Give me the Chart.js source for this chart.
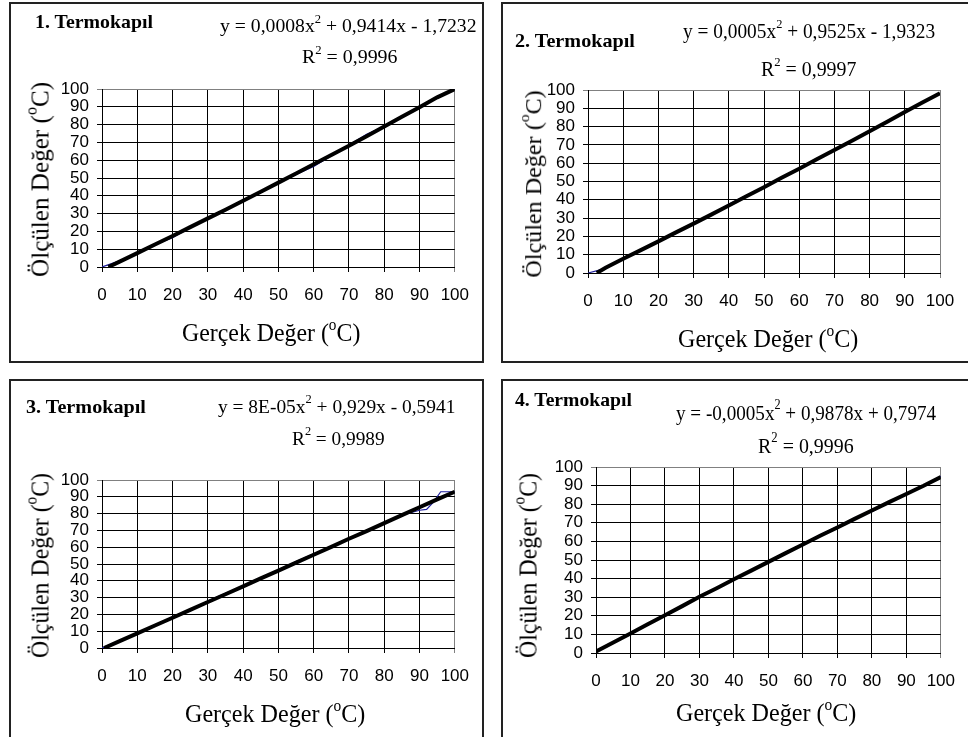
<!DOCTYPE html>
<html lang="tr">
<head>
<meta charset="UTF-8">
<title>Termokapıl kalibrasyonu</title>
<style>
  body { margin: 0; width: 968px; height: 737px; overflow: hidden; background: #fff; position: relative; font-family: "Liberation Serif", serif; }
  .box { position: absolute; border: 2px solid #222; box-sizing: border-box; }
  canvas { position: absolute; }
  .t { position: absolute; white-space: nowrap; line-height: 1; color: #000; transform-origin: 0 0; }
  .b { font-weight: bold; }
  .sup { font-size: .64em; position: relative; top: -.75em; }
</style>
<script src="https://cdn.jsdelivr.net/npm/chart.js"></script>
</head>
<body>
<script>
// --- data ---
const basliklar = ['1. Termokapıl', '2. Termokapıl', '3. Termokapıl', '4. Termokapıl'];
const denklemler = [
  'y = 0,0008x² + 0,9414x - 1,7232',
  'y = 0,0005x² + 0,9525x - 1,9323',
  'y = 8E-05x² + 0,929x - 0,5941',
  'y = -0,0005x² + 0,9878x + 0,7974'
];
const r2Degerleri = ['0,9996', '0,9997', '0,9989', '0,9996'];
const eksenTicks = [0, 10, 20, 30, 40, 50, 60, 70, 80, 90, 100];

// measured (blue) series
const adimX = [0, 5, 10, 15, 20, 25, 30, 35, 40, 45, 50, 55, 60, 65, 70, 75, 80, 85, 90, 95, 100];
const olcum1 = [0, 3.5, 7.5, 12.5, 16.5, 22, 27, 32.5, 37.5, 42.5, 47.5, 52, 56.5, 62.5, 68.5, 74.5, 79, 84, 89.5, 95, 100];
const olcum2 = [0, 2.5, 7.5, 12.5, 17, 22, 27, 32, 37.5, 42.5, 47, 52, 57, 62.5, 67, 72.5, 77.5, 82.5, 88, 93, 98];
const olcumX3 = [0, 5, 10, 15, 20, 25, 30, 35, 40, 45, 50, 55, 60, 65, 70, 75, 80, 85, 90, 92, 94, 96, 100];
const olcum3 = [0, 4.5, 8.5, 13.5, 18.5, 22, 28, 32.5, 37, 42, 46.5, 51.5, 56, 60, 65, 69.5, 74, 79, 82, 82.5, 87, 93, 93];
const olcum4 = [1, 5.5, 10, 15.5, 20, 25.5, 30, 35, 40, 44.5, 49, 54, 58, 63.5, 68, 72.5, 76, 81, 85.5, 90, 95];

// trend (black) series, starting where the line leaves the x axis
const trendX1 = [1.8, 5, 10, 15, 20, 25, 30, 35, 40, 45, 50, 55, 60, 65, 70, 75, 80, 85, 90, 95, 100];
const trend1 = [0, 3, 7.8, 12.6, 17.4, 22.4, 27.3, 32.2, 37.2, 42.3, 47.4, 52.5, 57.7, 62.9, 68.1, 73.5, 79, 84.4, 89.8, 95.3, 100];
const trendX2 = [2.5, 5, 10, 15, 20, 25, 30, 35, 40, 45, 50, 55, 60, 65, 70, 75, 80, 85, 90, 95, 100];
const trend2 = [0, 2.9, 7.8, 12.5, 17.3, 22.2, 27, 31.9, 36.9, 41.9, 46.9, 52, 57, 62.1, 67.2, 72.3, 77.5, 82.7, 88, 93.2, 98.2];
const trendX3 = [0.6, 5, 10, 15, 20, 25, 30, 35, 40, 45, 50, 55, 60, 65, 70, 75, 80, 85, 90, 95, 100];
const trend3 = [0, 4.1, 8.7, 13.4, 18, 22.7, 27.4, 32, 36.7, 41.4, 46.1, 50.8, 55.5, 60.2, 65, 69.6, 74.3, 79.1, 83.8, 88.5, 93];
const trend4 = [0.8, 5.7, 10.5, 15.5, 20.3, 25.2, 30.2, 34.8, 39.6, 44.3, 49, 53.7, 58.3, 63, 67.5, 72.1, 76.6, 81.1, 85.5, 89.9, 94.6];

const seriler = [
  { ox: adimX, oy: olcum1, tx: trendX1, ty: trend1 },
  { ox: adimX, oy: olcum2, tx: trendX2, ty: trend2 },
  { ox: olcumX3, oy: olcum3, tx: trendX3, ty: trend3 },
  { ox: adimX, oy: olcum4, tx: adimX, ty: trend4 }
];

// --- layout (page pixels) ---
// text: [x, baseline, width, fontSize]; yt: [centerX, centerY, length, fontSize]
const paneller = [
  { box: [9, 2, 475, 361], cv: [11, 4, 471, 357], area: { left: 91, right: 23, top: 85, xh: 94 },
    title: [35, 28, 118, 19], eq: [220, 32, 257, 18], r2: [302, 63, 95, 18], yt: [40, 179.5, 195, 25], xt: [182, 342, 178, 24.5] },
  { box: [501, 2, 480, 361], cv: [503, 4, 465, 357], area: { left: 85, right: 28, top: 86, xh: 88 },
    title: [515, 47, 120, 19], eq: [683, 38, 252, 20.5], r2: [761, 76, 95, 20.5], yt: [533, 183.5, 187, 24], xt: [678, 348, 180, 24.5] },
  { box: [9, 379, 475, 370], cv: [11, 381, 471, 356], area: { left: 91, right: 23, top: 99, xh: 89 },
    title: [26, 413, 120, 19], eq: [218, 413, 237, 19.5], r2: [292, 445, 93, 19.5], yt: [39.5, 565, 185, 25], xt: [185, 723, 180, 24.5] },
  { box: [501, 379, 480, 370], cv: [503, 381, 465, 356], area: { left: 93, right: 19, top: 86, xh: 84 },
    title: [515, 406, 117, 19], eq: [676, 420, 260, 22], r2: [758, 453, 96, 22], yt: [527.5, 565, 185, 25], xt: [676, 722, 180, 24.5] }
];

const SERIF_BASE = 0.8375; // baseline offset of Liberation Serif at line-height 1

function supla(s) {
  return s.replace('²', '<span class="sup">2</span>');
}

function yazi(html, [x, base, w, fs], bold) {
  const el = document.createElement('div');
  el.className = 't' + (bold ? ' b' : '');
  el.style.fontSize = fs + 'px';
  el.innerHTML = html;
  document.body.appendChild(el);
  el.style.left = x + 'px';
  el.style.top = (base - SERIF_BASE * fs) + 'px';
  el.style.transform = 'scaleX(' + (w / el.offsetWidth) + ')';
}

function dikeyYazi(html, [cx, cy, len, fs]) {
  const el = document.createElement('div');
  el.className = 't';
  el.style.fontSize = fs + 'px';
  el.innerHTML = html;
  document.body.appendChild(el);
  const w = el.offsetWidth, h = el.offsetHeight;
  el.style.left = (cx - w / 2) + 'px';
  el.style.top = (cy - h / 2) + 'px';
  el.style.transformOrigin = '50% 50%';
  el.style.transform = 'rotate(-90deg) scaleX(' + (len / w) + ')';
}

function eksen(p, isX) {
  return {
    type: 'linear', min: 0, max: 100,
    afterBuildTicks: s => { s.ticks = eksenTicks.map(v => ({ value: v })); },
    afterFit: s => { if (isX) s.height = p.area.xh; else s.width = p.area.left; },
    ticks: { autoSkip: false, maxRotation: 0, color: '#000', padding: isX ? 13 : 8,
             font: { family: 'Liberation Sans', size: 17 } },
    grid: { color: c => (c.tick && c.tick.value === 100) ? '#808080' : '#000', lineWidth: 1, tickLength: 5 },
    border: { color: '#000', width: 1 }
  };
}

paneller.forEach((p, i) => {
  const box = document.createElement('div');
  box.className = 'box';
  box.style.left = p.box[0] + 'px'; box.style.top = p.box[1] + 'px';
  box.style.width = p.box[2] + 'px'; box.style.height = p.box[3] + 'px';
  document.body.appendChild(box);

  const cv = document.createElement('canvas');
  cv.width = p.cv[2]; cv.height = p.cv[3];
  cv.style.left = p.cv[0] + 'px'; cv.style.top = p.cv[1] + 'px';
  document.body.appendChild(cv);

  const s = seriler[i];
  new Chart(cv, {
    type: 'scatter',
    data: {
      datasets: [
        // first dataset is drawn on top
        { label: 'Polinom', data: s.tx.map((x, j) => ({ x, y: s.ty[j] })), showLine: true,
          borderColor: '#000', borderWidth: 4, pointRadius: 0 },
        { label: 'Ölçüm', data: s.ox.map((x, j) => ({ x, y: s.oy[j] })), showLine: true,
          borderColor: '#1c1c9c', borderWidth: 1.2, pointRadius: 0 }
      ]
    },
    options: {
      responsive: false, animation: false, events: [],
      layout: { padding: { left: 0, top: p.area.top, right: p.area.right, bottom: 0 } },
      plugins: { legend: { display: false }, tooltip: { enabled: false } },
      scales: { x: eksen(p, true), y: eksen(p, false) }
    }
  });

  yazi(basliklar[i], p.title, true);
  yazi(supla(denklemler[i]), p.eq, false);
  yazi('R<span class="sup">2</span> = ' + r2Degerleri[i], p.r2, false);
  dikeyYazi('Ölçülen Değer (<span class="sup">o</span>C)', p.yt);
  yazi('Gerçek Değer (<span class="sup">o</span>C)', p.xt, false);
});
</script>
</body>
</html>
